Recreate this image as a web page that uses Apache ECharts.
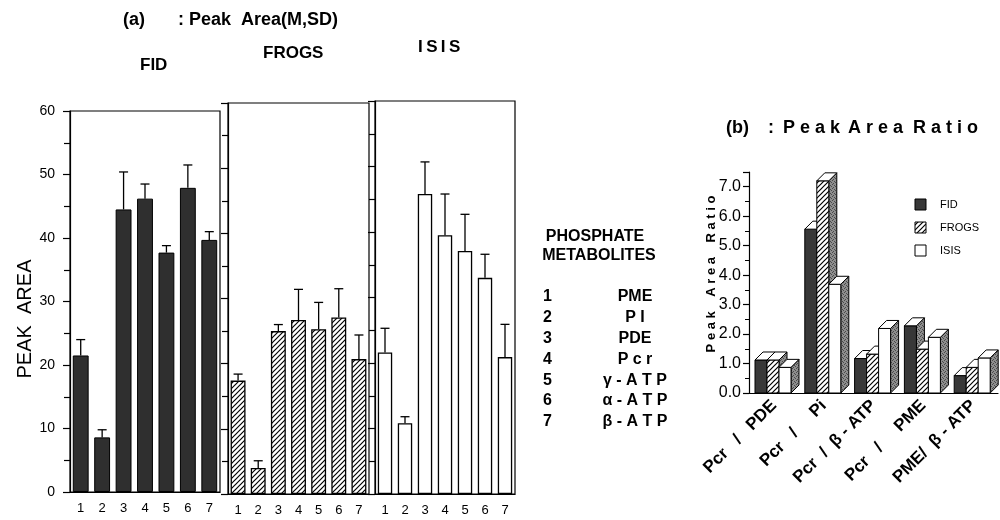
<!DOCTYPE html>
<html>
<head>
<meta charset="utf-8">
<script src="https://cdn.jsdelivr.net/npm/echarts@6/dist/echarts.min.js"></script>
<style>
html, body { margin: 0; background: #fff; }
#main { width: 1000px; height: 520px; }
</style>
</head>
<body>
<div id="main"></div>
<script>
// (a) peak area, mean and SD per metabolite
var metaboliteNo = ['1', '2', '3', '4', '5', '6', '7'];
var metaboliteNames = ['PME', 'P I', 'PDE', 'P c r', 'γ - A T P', 'α - A T P', 'β - A T P'];
var fidMean = [21.5, 8.6, 44.5, 46.2, 37.7, 47.9, 39.7];
var fidSd = [2.5, 1.2, 5.9, 2.3, 1.1, 3.6, 1.3];
var frogsMean = [17.4, 4.0, 25.0, 26.7, 25.3, 27.1, 20.7];
var frogsSd = [1.0, 1.1, 1.0, 4.7, 4.1, 4.4, 3.7];
var isisMean = [21.6, 10.8, 45.8, 39.5, 37.1, 33.0, 20.9];
var isisSd = [3.7, 1.0, 4.9, 6.3, 5.6, 3.6, 5.0];

// (b) peak area ratio
var ratioCats = ['Pcr   /   PDE', 'Pcr   /     Pi', 'Pcr  /  β - ATP', 'Pcr   /     PME', 'PME/  β - ATP'];
var fidRatio = [1.12, 5.56, 1.17, 2.28, 0.59];
var frogsRatio = [1.12, 7.2, 1.32, 1.49, 0.87];
var isisRatio = [0.87, 3.69, 2.19, 1.89, 1.19];

var FONT = '"Liberation Sans", Arial, Helvetica, sans-serif';

function hatchTile() {
    var c = document.createElement('canvas');
    c.width = c.height = 5;
    var g = c.getContext('2d');
    g.fillStyle = '#fff';
    g.fillRect(0, 0, 5, 5);
    g.strokeStyle = '#000';
    g.lineWidth = 1.2;
    g.beginPath();
    g.moveTo(0, 5); g.lineTo(5, 0);
    g.moveTo(-1, 1); g.lineTo(1, -1);
    g.moveTo(4, 6); g.lineTo(6, 4);
    g.stroke();
    return c;
}

function speckleTile(base, dot) {
    var c = document.createElement('canvas');
    c.width = c.height = 4;
    var g = c.getContext('2d');
    g.fillStyle = base;
    g.fillRect(0, 0, 4, 4);
    g.fillStyle = dot;
    [[0, 0], [2, 1], [1, 3], [3, 2]].forEach(function(p) { g.fillRect(p[0], p[1], 1, 1); });
    return c;
}

var hatch = { type: 'pattern', image: hatchTile(), repeat: 'repeat' };
var side = { type: 'pattern', image: speckleTile('#8e8e8e', '#4a4a4a'), repeat: 'repeat' };

function errorItem(params, api) {
    var i = api.value(0), m = api.value(1), s = api.value(2);
    var p0 = api.coord([i, m]);
    var p1 = api.coord([i, m + s]);
    var st = { stroke: '#000', lineWidth: 1.3 };
    return {
        type: 'group',
        children: [
            { type: 'line', shape: { x1: p0[0], y1: p0[1], x2: p1[0], y2: p1[1] }, style: st },
            { type: 'line', shape: { x1: p1[0] - 4.5, y1: p1[1], x2: p1[0] + 4.5, y2: p1[1] }, style: st }
        ]
    };
}

function bar3d(slot, frontFill) {
    return function(params, api) {
        var i = api.value(0), v = api.value(1);
        var base = api.coord([i, 0]), top = api.coord([i, v]);
        var band = api.size([1, 0])[0];
        var w = 12, d = 8;
        var x0 = base[0] - band / 2 + 6 + slot * w, x1 = x0 + w;
        var y0 = base[1], y1 = top[1];
        var st = { stroke: '#000', lineWidth: 1 };
        return {
            type: 'group',
            children: [
                { type: 'polygon', shape: { points: [[x1, y1], [x1 + d, y1 - d], [x1 + d, y0 - d], [x1, y0]] },
                  style: Object.assign({ fill: side }, st) },
                { type: 'rect', shape: { x: x0, y: y1, width: w, height: y0 - y1 },
                  style: Object.assign({ fill: frontFill }, st) },
                { type: 'polygon', shape: { points: [[x0, y1], [x1, y1], [x1 + d, y1 - d], [x0 + d, y1 - d]] },
                  style: Object.assign({ fill: '#fff' }, st) }
            ]
        };
    };
}

var black = { color: '#000', width: 1.2 };
var gridBox = { show: true, borderColor: '#000', borderWidth: 1.2, backgroundColor: 'transparent' };

function xAxisA(k) {
    return {
        type: 'category', gridIndex: k, data: metaboliteNo,
        axisLine: { lineStyle: black },
        axisTick: { length: 5, lineStyle: black },
        axisLabel: { color: '#000', fontSize: 13, fontFamily: FONT, margin: 10 }
    };
}

function yAxisA(k) {
    return {
        type: 'value', gridIndex: k, min: 0, max: 60, interval: 10,
        axisLine: { show: true, lineStyle: black },
        axisTick: { show: true, length: 7, lineStyle: black },
        minorTick: { show: true, splitNumber: 2, length: 6, lineStyle: { color: '#000', width: 1.2 } },
        splitLine: { show: false },
        axisLabel: { show: k === 0, color: '#000', fontSize: 14, fontFamily: FONT, margin: 15 }
    };
}

function tx(text, x, y, size, weight, align) {
    return {
        type: 'text', x: x, y: y,
        style: { text: text, fill: '#000', font: (weight || 'normal') + ' ' + size + 'px ' + FONT,
                 textAlign: align || 'left', textVerticalAlign: 'middle' }
    };
}

function rot(t) { t.rotation = Math.PI / 2; return t; }

var graphics = [
    tx('(a)', 123, 20, 18, 'bold'),
    tx(': Peak  Area(M,SD)', 178, 20, 18, 'bold'),
    tx('FID', 140, 65, 17, 'bold'),
    tx('FROGS', 263, 53, 17, 'bold'),
    tx('I\u2009S\u2009I\u2009S', 418, 47, 17, 'bold'),
    rot(tx('PEAK  AREA', 25, 319, 20, 'normal', 'center')),
    tx('PHOSPHATE', 595, 237, 16, 'bold', 'center'),
    tx('METABOLITES', 599, 256, 16, 'bold', 'center'),
    tx('(b)', 726, 128, 18, 'bold'),
    tx(':', 768, 128, 18, 'bold'),
    tx('P e a k', 783, 128, 18, 'bold'),
    tx('A r e a', 848, 128, 18, 'bold'),
    tx('R a t i o', 913, 128, 18, 'bold'),
    rot(tx('P e a k    A r e a    R a t i o', 711, 274, 13, 'bold', 'center'))
];

metaboliteNo.forEach(function(n, i) {
    var y = 297 + i * 20.8;
    graphics.push(tx(n, 543, y, 16, 'bold'));
    graphics.push(tx(metaboliteNames[i], 635, y, 16, 'bold', 'center'));
});

// legend of panel (b)
[['FID', '#383838'], ['FROGS', hatch], ['ISIS', '#fff']].forEach(function(it, i) {
    var y = 199 + i * 23;
    graphics.push({ type: 'rect', shape: { x: 915, y: y, width: 11, height: 11 },
        style: { fill: it[1], stroke: '#000', lineWidth: 1 } });
    graphics.push(tx(it[0], 940, y + 5.5, 11, 'normal'));
});

var option = {
    backgroundColor: '#fff',
    animation: false,
    grid: [
        Object.assign({ left: 70, top: 111, width: 150, height: 381 }, gridBox),
        Object.assign({ left: 228, top: 103, width: 141, height: 391 }, gridBox),
        Object.assign({ left: 375, top: 101, width: 140, height: 393 }, gridBox),
        { left: 749, top: 172, width: 249, height: 221 }
    ],
    xAxis: [xAxisA(0), xAxisA(1), xAxisA(2), {
        type: 'category', gridIndex: 3, data: ratioCats,
        axisLine: { lineStyle: black },
        axisTick: { length: 5, lineStyle: black },
        axisLabel: { color: '#000', fontSize: 17, fontWeight: 'bold', fontFamily: FONT, rotate: 45, interval: 0, margin: 10 }
    }],
    yAxis: [yAxisA(0), yAxisA(1), yAxisA(2), {
        type: 'value', gridIndex: 3, min: 0, max: 7.5, interval: 1,
        axisLine: { show: true, lineStyle: black },
        axisTick: { show: true, length: 6, lineStyle: black },
        minorTick: { show: true, splitNumber: 2, length: 4, lineStyle: { color: '#000' } },
        splitLine: { show: false },
        axisLabel: { color: '#000', fontSize: 16, fontFamily: FONT, margin: 8, showMaxLabel: false,
                     formatter: function(v) { return v.toFixed(1); } }
    }],
    series: [
        { type: 'bar', xAxisIndex: 0, yAxisIndex: 0, data: fidMean, barWidth: '74%',
          itemStyle: { color: '#2f2f2f', borderColor: '#000', borderWidth: 1 } },
        { type: 'custom', xAxisIndex: 0, yAxisIndex: 0, renderItem: errorItem, z: 3,
          data: fidMean.map(function(m, i) { return [i, m, fidSd[i]]; }) },
        { type: 'bar', xAxisIndex: 1, yAxisIndex: 1, data: frogsMean, barWidth: '74%',
          itemStyle: { color: hatch, borderColor: '#000', borderWidth: 1.3 } },
        { type: 'custom', xAxisIndex: 1, yAxisIndex: 1, renderItem: errorItem, z: 3,
          data: frogsMean.map(function(m, i) { return [i, m, frogsSd[i]]; }) },
        { type: 'bar', xAxisIndex: 2, yAxisIndex: 2, data: isisMean, barWidth: '72%',
          itemStyle: { color: '#fff', borderColor: '#000', borderWidth: 1.3 } },
        { type: 'custom', xAxisIndex: 2, yAxisIndex: 2, renderItem: errorItem, z: 3,
          data: isisMean.map(function(m, i) { return [i, m, isisSd[i]]; }) },
        { type: 'custom', xAxisIndex: 3, yAxisIndex: 3, renderItem: bar3d(0, '#383838'), clip: false,
          data: fidRatio.map(function(v, i) { return [i, v]; }) },
        { type: 'custom', xAxisIndex: 3, yAxisIndex: 3, renderItem: bar3d(1, hatch), clip: false,
          data: frogsRatio.map(function(v, i) { return [i, v]; }) },
        { type: 'custom', xAxisIndex: 3, yAxisIndex: 3, renderItem: bar3d(2, '#fff'), clip: false,
          data: isisRatio.map(function(v, i) { return [i, v]; }) }
    ],
    graphic: graphics
};

var chart = echarts.init(document.getElementById('main'));
chart.setOption(option);
</script>
</body>
</html>
